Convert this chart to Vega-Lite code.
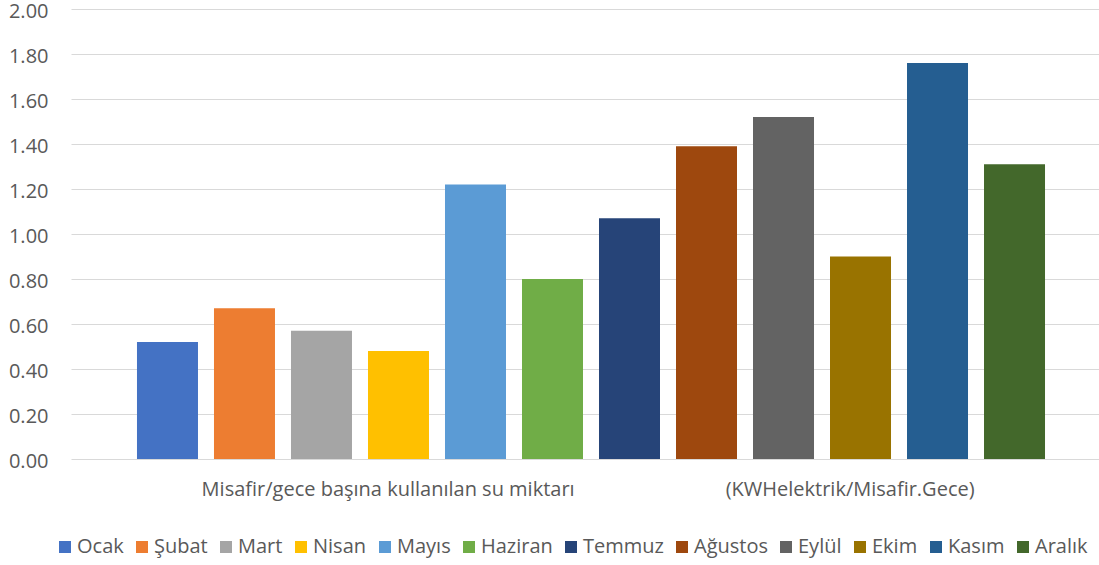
{
  "$schema": "https://vega.github.io/schema/vega-lite/v6.json",
  "width": 1028,
  "height": 450,
  "autosize": {"type": "none"},
  "padding": {"left": 71, "top": 9, "right": 0, "bottom": 106},
  "background": "white",
  "config": {
    "font": "Open Sans",
    "view": {"stroke": null},
    "axis": {"labelFont": "Open Sans"},
    "legend": {"labelFont": "Open Sans"}
  },
  "layer": [
    {
      "data": {
        "values": [
          {"ay": "Ocak", "deger": 0.52},
          {"ay": "Şubat", "deger": 0.67},
          {"ay": "Mart", "deger": 0.57},
          {"ay": "Nisan", "deger": 0.48},
          {"ay": "Mayıs", "deger": 1.22},
          {"ay": "Haziran", "deger": 0.80},
          {"ay": "Temmuz", "deger": 1.07},
          {"ay": "Ağustos", "deger": 1.39},
          {"ay": "Eylül", "deger": 1.52},
          {"ay": "Ekim", "deger": 0.90},
          {"ay": "Kasım", "deger": 1.76},
          {"ay": "Aralık", "deger": 1.31}
        ]
      },
      "mark": {"type": "bar"},
      "encoding": {
        "x": {
          "field": "ay",
          "type": "nominal",
          "sort": null,
          "scale": {
            "domain": ["Ocak", "Şubat", "Mart", "Nisan", "Mayıs", "Haziran", "Temmuz", "Ağustos", "Eylül", "Ekim", "Kasım", "Aralık"],
            "paddingInner": 0.2078,
            "paddingOuter": 0.779,
            "align": 0.55
          },
          "axis": null
        },
        "y": {
          "field": "deger",
          "type": "quantitative",
          "scale": {"domain": [0, 2]},
          "axis": {
            "values": [0, 0.2, 0.4, 0.6, 0.8, 1.0, 1.2, 1.4, 1.6, 1.8, 2.0],
            "format": ".2f",
            "grid": true,
            "gridColor": "#d9d9d9",
            "gridWidth": 1,
            "domain": false,
            "ticks": false,
            "labelPadding": 23,
            "labelOffset": 2,
            "labelFontSize": 20,
            "labelColor": "#595959",
            "title": null
          }
        },
        "color": {
          "field": "ay",
          "type": "nominal",
          "sort": null,
          "scale": {
            "domain": ["Ocak", "Şubat", "Mart", "Nisan", "Mayıs", "Haziran", "Temmuz", "Ağustos", "Eylül", "Ekim", "Kasım", "Aralık"],
            "range": ["#4472C4", "#ED7D31", "#A5A5A5", "#FFC000", "#5B9BD5", "#70AD47", "#264478", "#9E480E", "#636363", "#997300", "#255E91", "#43682B"]
          },
          "legend": {
            "title": null,
            "orient": "none",
            "legendX": -16,
            "legendY": 528,
            "padding": 0,
            "direction": "horizontal",
            "columns": 12,
            "symbolType": "square",
            "symbolSize": 144,
            "symbolStrokeWidth": 0,
            "symbolOpacity": 1,
            "labelFontSize": 20,
            "labelColor": "#595959",
            "labelOffset": 2,
            "columnPadding": 8
          }
        }
      }
    },
    {
      "data": {
        "values": [
          {"etiket": "Misafir/gece başına kullanılan su miktarı", "konum": "Nisan"},
          {"etiket": "(KWHelektrik/Misafir.Gece)", "konum": "Ekim"}
        ]
      },
      "mark": {"type": "text", "fontSize": 20, "color": "#595959", "baseline": "middle", "align": "center", "dy": 31},
      "encoding": {
        "x": {
          "field": "konum",
          "type": "nominal",
          "sort": null,
          "bandPosition": 0.33,
          "scale": {
            "domain": ["Ocak", "Şubat", "Mart", "Nisan", "Mayıs", "Haziran", "Temmuz", "Ağustos", "Eylül", "Ekim", "Kasım", "Aralık"]
          },
          "axis": null
        },
        "y": {"datum": 0},
        "text": {"field": "etiket"}
      }
    }
  ]
}
